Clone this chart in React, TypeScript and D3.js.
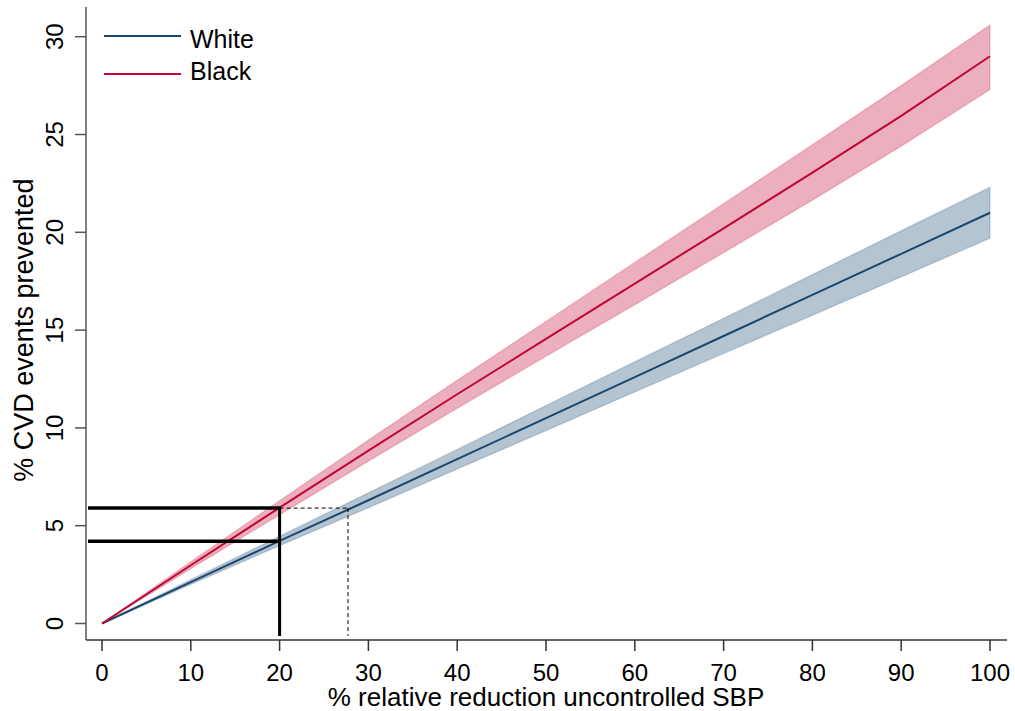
import React from 'react';
import * as d3 from 'd3';

// % relative reduction in uncontrolled SBP
const reduction = [0, 10, 20, 30, 40, 50, 60, 70, 80, 90, 100];

// White: estimate and 95% CI
const whiteMean = [0, 2.12, 4.22, 6.3, 8.4, 10.5, 12.6, 14.7, 16.8, 18.9, 21.0];
const whiteLow = [0, 2.0, 3.98, 5.92, 7.9, 9.86, 11.84, 13.8, 15.76, 17.72, 19.7];
const whiteHigh = [0, 2.24, 4.46, 6.68, 8.9, 11.14, 13.38, 15.6, 17.84, 20.08, 22.3];

// Black: estimate and 95% CI
const blackMean = [0, 2.98, 5.92, 8.84, 11.72, 14.55, 17.38, 20.2, 23.05, 25.95, 29.0];
const blackLow = [0, 2.8, 5.56, 8.3, 11.0, 13.66, 16.3, 18.96, 21.64, 24.4, 27.3];
const blackHigh = [0, 3.16, 6.28, 9.38, 12.44, 15.44, 18.46, 21.46, 24.48, 27.5, 30.6];

const xTicks = [0, 10, 20, 30, 40, 50, 60, 70, 80, 90, 100];
const yTicks = [0, 5, 10, 15, 20, 25, 30];

// reference lines
const refX = 20;
const refWhite = 4.2;
const refBlack = 5.9;
const refXDashed = 27.7;

const series = [
  { name: 'White', mean: whiteMean, low: whiteLow, high: whiteHigh, color: '#1a476f', ly: 36, ty: 48 },
  { name: 'Black', mean: blackMean, low: blackLow, high: blackHigh, color: '#c10534', ly: 74, ty: 80 },
];

const W = 1015;
const H = 711;
const font = 'Liberation Sans, Arial, sans-serif';

export default function App() {
  const x = d3.scaleLinear().domain([0, 100]).range([102, 990]);
  const y = d3.scaleLinear().domain([0, 30]).range([623.5, 36.7]);
  const axisX = 86;
  const axisY = 640;

  const line = d3.line<number>().x((_, i) => x(reduction[i])).y(d => y(d));

  return (
    <div style={{ position: 'absolute', left: 0, top: 0 }}>
      <svg width={W} height={H} style={{ display: 'block', background: '#fff' }} fontFamily={font}>
        {/* bands */}
        {series.map(s => {
          const area = d3.area<number>()
            .x((_, i) => x(reduction[i]))
            .y0((_, i) => y(s.low[i]))
            .y1(d => y(d));
          return (
            <path key={s.name + 'band'} d={area(s.high) || ''} fill={s.color} fillOpacity={0.32}
              stroke={s.color} strokeOpacity={0.18} strokeWidth={1.5} />
          );
        })}
        {/* lines */}
        {series.map(s => (
          <path key={s.name} d={line(s.mean) || ''} fill="none" stroke={s.color} strokeWidth={2} />
        ))}

        {/* reference lines */}
        <line x1={88} x2={x(refX)} y1={y(refBlack)} y2={y(refBlack)} stroke="#000" strokeWidth={3.5} />
        <line x1={88} x2={x(refX)} y1={y(refWhite)} y2={y(refWhite)} stroke="#000" strokeWidth={3.5} />
        <line x1={x(refX)} x2={x(refX)} y1={y(refBlack) - 1.5} y2={636} stroke="#000" strokeWidth={3} />
        <line x1={x(refX)} x2={x(refXDashed)} y1={y(refBlack)} y2={y(refBlack)} stroke="#000" strokeWidth={1} strokeDasharray="4,3" />
        <line x1={x(refXDashed)} x2={x(refXDashed)} y1={y(refBlack)} y2={636} stroke="#000" strokeWidth={1} strokeDasharray="4,3" />

        {/* y axis */}
        <line x1={axisX} x2={axisX} y1={7} y2={axisY} stroke="#555" strokeWidth={1.5} />
        {yTicks.map(t => (
          <g key={'y' + t}>
            <line x1={75} x2={axisX} y1={y(t)} y2={y(t)} stroke="#555" strokeWidth={1.5} />
            <text transform={`translate(63,${y(t)}) rotate(-90)`} textAnchor="middle" fontSize={24} fill="#000">{t}</text>
          </g>
        ))}
        <text transform={`translate(33,${(y(0) + y(30)) / 2}) rotate(-90)`} textAnchor="middle" fontSize={27} fill="#000">
          % CVD events prevented
        </text>

        {/* x axis */}
        <line x1={axisX} x2={1007} y1={axisY} y2={axisY} stroke="#333" strokeWidth={1.5} />
        {xTicks.map(t => (
          <g key={'x' + t}>
            <line x1={x(t)} x2={x(t)} y1={axisY} y2={651} stroke="#333" strokeWidth={1.5} />
            <text x={x(t)} y={681} textAnchor="middle" fontSize={24} fill="#000">{t}</text>
          </g>
        ))}
        <text x={(x(0) + x(100)) / 2} y={706} textAnchor="middle" fontSize={26} fill="#000">
          % relative reduction uncontrolled SBP
        </text>

        {/* legend */}
        {series.map(s => (
          <g key={'lg' + s.name}>
            <line x1={104} x2={181} y1={s.ly} y2={s.ly} stroke={s.color} strokeWidth={2} />
            <text x={190} y={s.ty} fontSize={25} fill="#000">{s.name}</text>
          </g>
        ))}
      </svg>
    </div>
  );
}
